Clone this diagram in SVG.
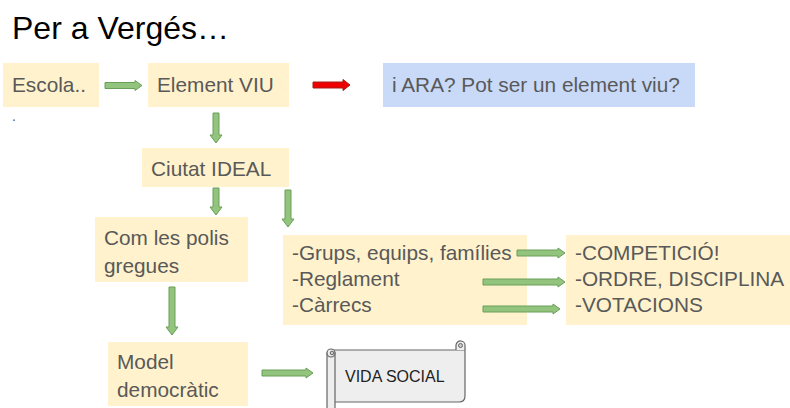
<svg xmlns="http://www.w3.org/2000/svg" width="790" height="408" viewBox="0 0 790 408">
<style>
.box{fill:#fff2cc;stroke:none}
.t{font-family:"Liberation Sans",Arial,sans-serif;font-size:20.8px;fill:#595959}
.ga{fill:#93c47d;stroke:#6a9f58;stroke-width:1}
.ra{fill:#ee0000;stroke:#a61c1c;stroke-width:1}
.sc{fill:#eeeeee;stroke:#666666;stroke-width:1.2}
</style>
<rect width="790" height="408" fill="#ffffff"/>
<text x="12" y="39" style="font-family:'Liberation Sans',Arial,sans-serif;font-size:32px;fill:#000">Per a Vergés…</text>

<g id="escola">
<rect class="box" x="3" y="63" width="96" height="44"/>
<text class="t" x="12" y="92">Escola..</text>
<text class="t" x="12" y="121" style="font-size:14px">.</text>
</g>
<g id="element-viu">
<rect class="box" x="148" y="63" width="141" height="44"/>
<text class="t" x="157" y="92">Element VIU</text>
</g>
<g id="ara">
<rect x="383" y="63" width="312" height="44" fill="#c9daf8"/>
<text class="t" x="392" y="92">i ARA? Pot ser un element viu?</text>
</g>
<g id="ciutat-ideal">
<rect class="box" x="142" y="148" width="147" height="39"/>
<text class="t" x="151" y="176">Ciutat IDEAL</text>
</g>
<g id="polis">
<rect class="box" x="95" y="217" width="153" height="65"/>
<text class="t" x="104" y="245">Com les polis</text>
<text class="t" x="104" y="273">gregues</text>
</g>
<g id="grups">
<rect class="box" x="283" y="235" width="244" height="90"/>
<text class="t" x="292" y="260">-Grups, equips, famílies</text>
<text class="t" x="292" y="286">-Reglament</text>
<text class="t" x="292" y="312">-Càrrecs</text>
</g>
<g id="resultats">
<rect class="box" x="566" y="235" width="224" height="90"/>
<text class="t" x="575" y="260">-COMPETICIÓ!</text>
<text class="t" x="575" y="286">-ORDRE, DISCIPLINA</text>
<text class="t" x="575" y="312">-VOTACIONS</text>
</g>
<g id="model">
<rect class="box" x="108" y="342" width="140" height="64"/>
<text class="t" x="117" y="369">Model</text>
<text class="t" x="117" y="397">democràtic</text>
</g>
<g id="vida-social">
<path class="sc" d="M333,350 H465 V396 Q465,402 459,402 H333 Z"/>
<path class="sc" d="M456,350 V345 A4.5,4.5 0 1 1 465,346 V350"/>
<circle cx="460.5" cy="345.5" r="2" fill="#cccccc" stroke="#666666" stroke-width="1"/>
<rect class="sc" x="327" y="353" width="8" height="56"/>
<circle cx="331" cy="353" r="4" class="sc"/>
<circle cx="332" cy="353" r="1.8" fill="#cccccc" stroke="#666666" stroke-width="1"/>
<text x="345" y="382" style="font-family:'Liberation Sans',Arial,sans-serif;font-size:16px;fill:#222">VIDA SOCIAL</text>
</g>

<g id="connectors">
<path class="ga" d="M105,82.5 H135 V80.5 L142,85.5 L135,90.5 V88.5 H105 Z"/>
<path class="ra" d="M313,82 H343 V79.5 L350,85 L343,90.5 V88 H313 Z"/>
<path class="ga" d="M213,113 V135 H210 L216,143 L222,135 H219 V113 Z"/>
<path class="ga" d="M213,188 V207 H210 L216,215 L222,207 H219 V188 Z"/>
<path class="ga" d="M285,190 V219 H282 L288,227 L294,219 H291 V190 Z"/>
<path class="ga" d="M169,287 V327 H166 L172,335 L178,327 H175 V287 Z"/>
<path class="ga" d="M517,250 H558 V248 L565,253 L558,258 V256 H517 Z"/>
<path class="ga" d="M483,279 H558 V277 L565,282 L558,287 V285 H483 Z"/>
<path class="ga" d="M483,306 H553 V304 L560,309 L553,314 V312 H483 Z"/>
<path class="ga" d="M262,370 H306 V368 L313,373 L306,378 V376 H262 Z"/>
</g>
</svg>
